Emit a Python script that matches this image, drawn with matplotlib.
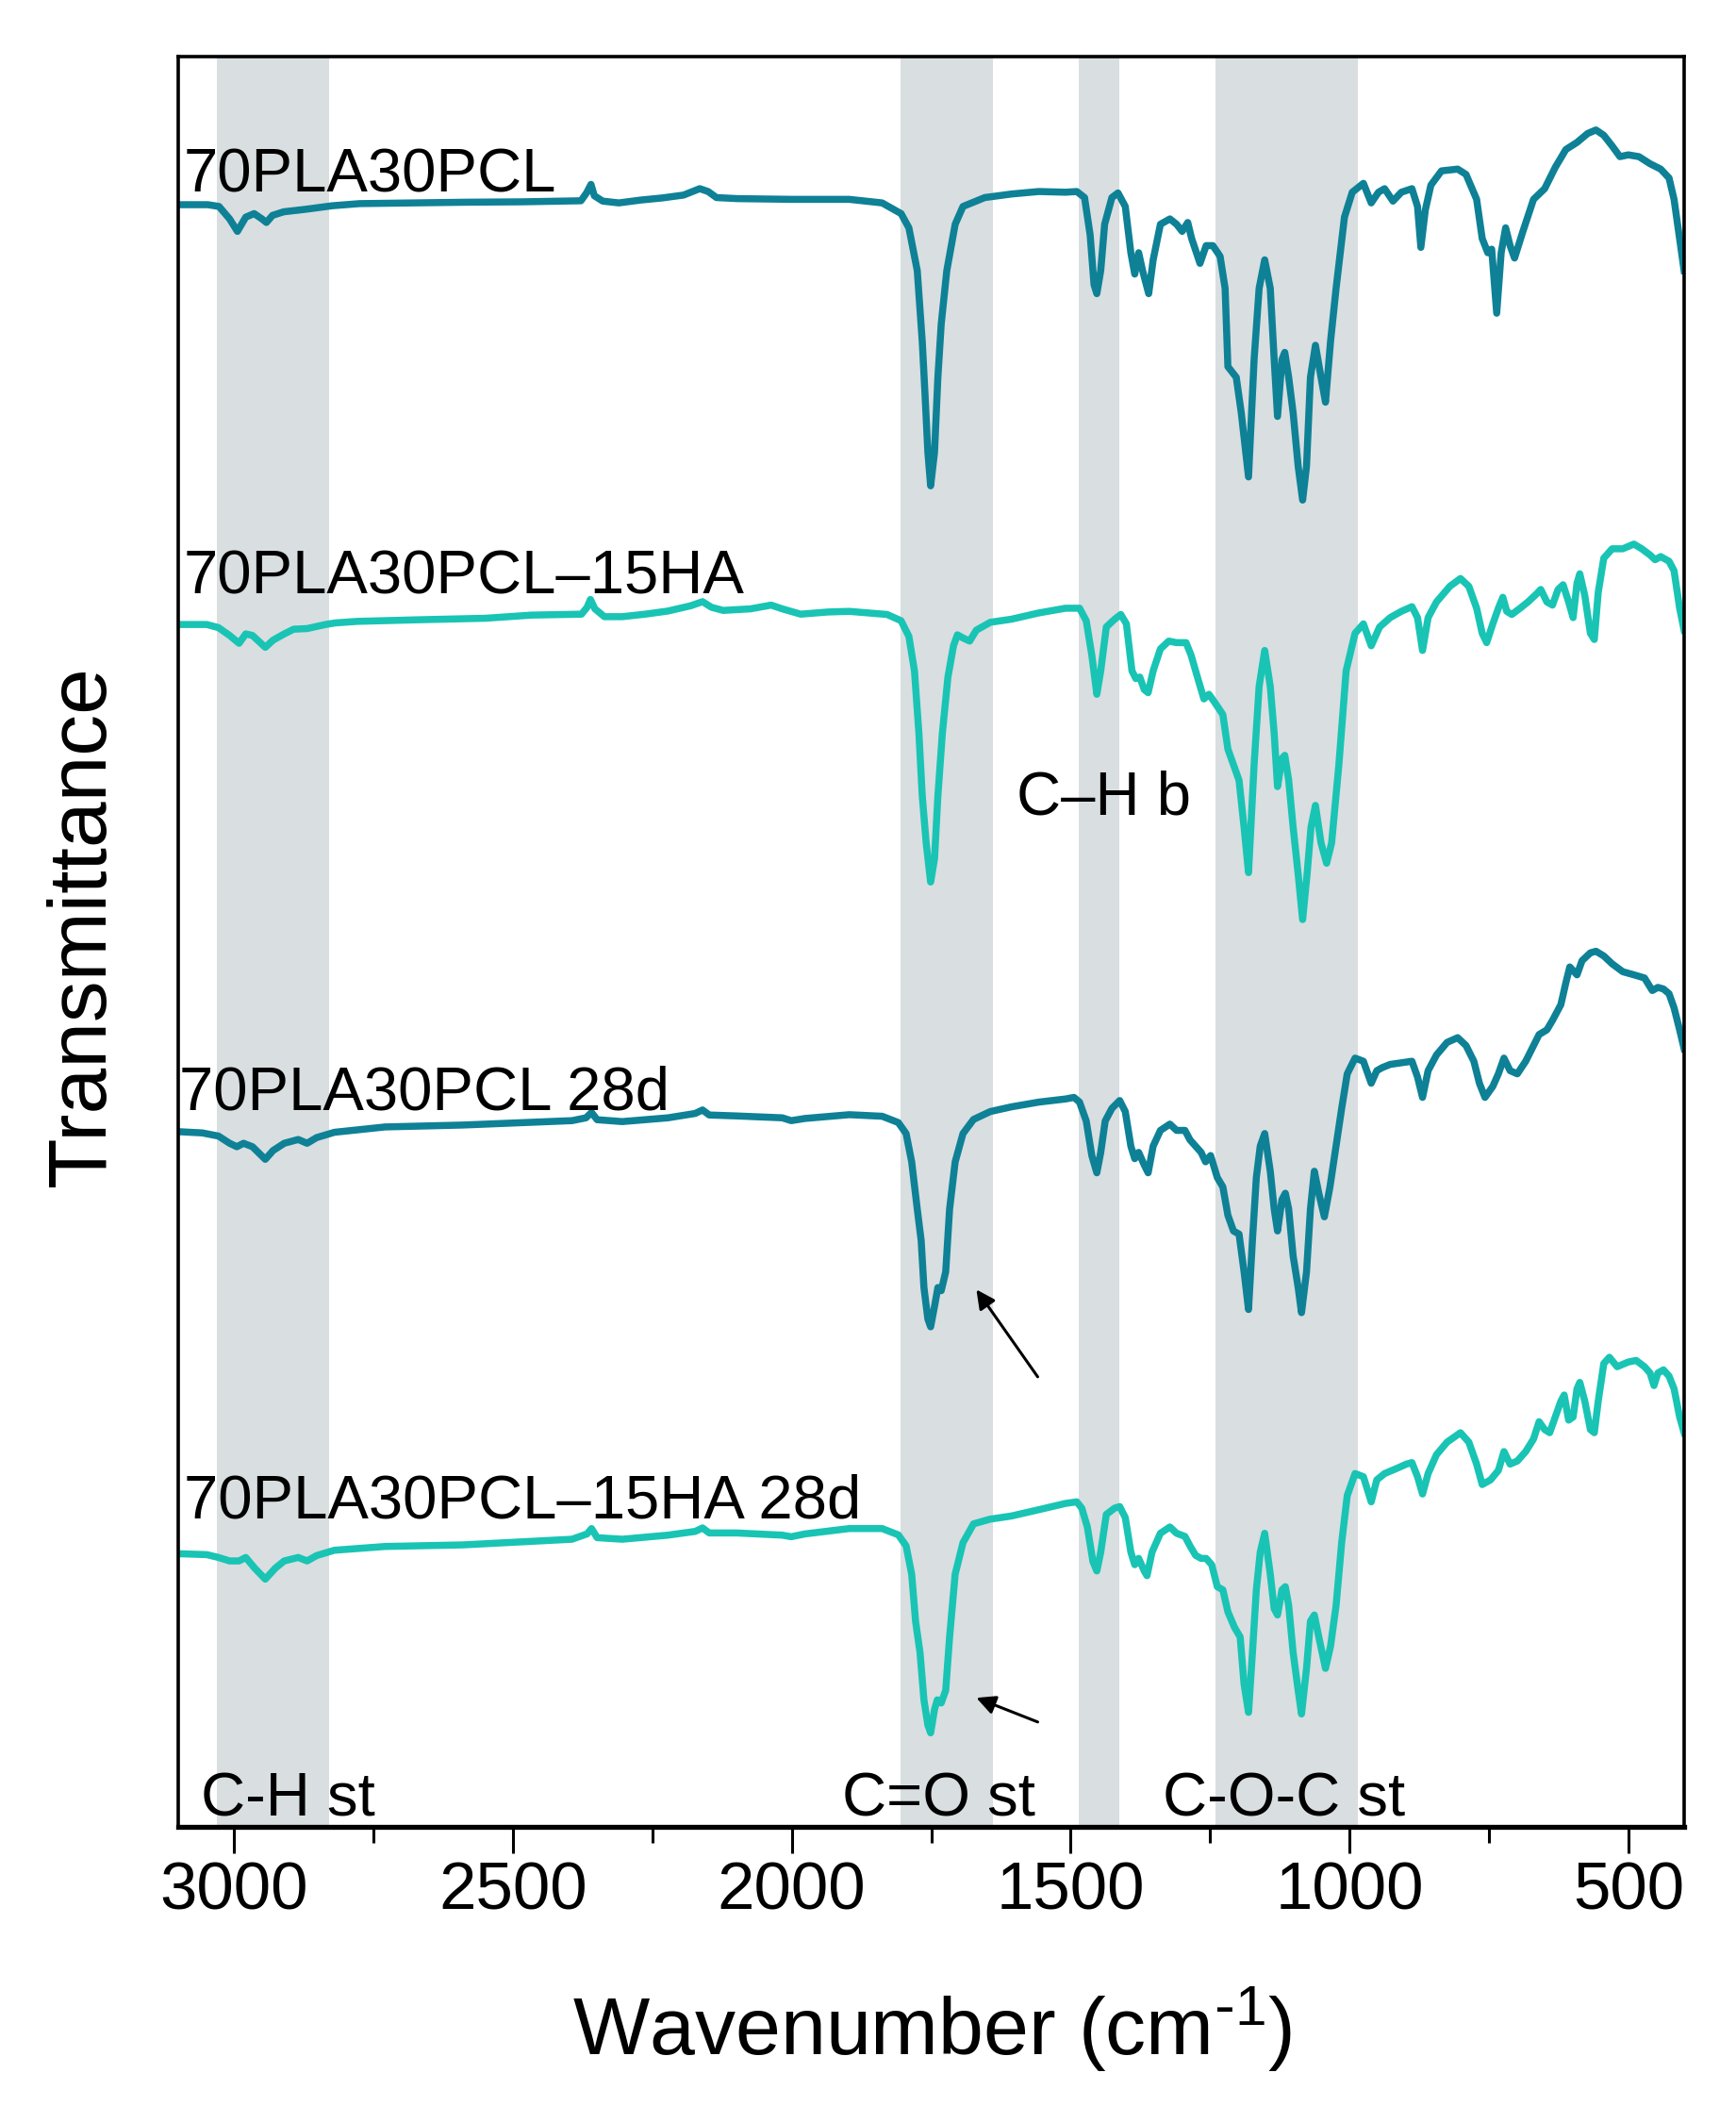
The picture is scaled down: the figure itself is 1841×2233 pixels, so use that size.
import matplotlib
matplotlib.use("Agg")
import matplotlib.pyplot as plt
from matplotlib.ticker import MultipleLocator

plt.rcParams.update({
    'font.family': ['Liberation Sans', 'DejaVu Sans'],
    'mathtext.default': 'regular',
})

DARK = '#0E8196'
LIGHT = '#19C4B4'
BAND = '#D9DEE0'

# ---- spectra (wavenumber cm-1, relative transmittance) ----
wn1 = [3100, 3047, 3027, 3008, 2994, 2979, 2964, 2950, 2942, 2931, 2911, 2872, 2824, 2775, 2678, 2581,
       2485, 2378, 2368, 2360, 2354, 2339, 2310, 2271, 2232, 2194, 2165, 2150, 2135, 2097, 2000,
       1897, 1838, 1804, 1790, 1775, 1766, 1761, 1756, 1751, 1744, 1738, 1732, 1722, 1707, 1693, 1654,
       1606, 1557, 1509, 1489, 1475, 1465, 1458, 1453, 1446, 1439, 1426, 1415, 1402, 1392, 1385, 1378,
       1371, 1360, 1352, 1339, 1322, 1310, 1300, 1290, 1283, 1268, 1257, 1245, 1232, 1223, 1218, 1203,
       1194, 1181, 1171, 1162, 1152, 1142, 1135, 1129, 1121, 1116, 1109, 1101, 1092, 1084, 1077, 1070,
       1061, 1051, 1043, 1034, 1024, 1009, 995, 975, 961, 948, 937, 922, 907, 888, 878, 872, 864, 854,
       835, 806, 791, 772, 762, 752, 745, 736, 728, 720, 712, 704, 689, 670, 650, 631, 612, 592, 573,
       558, 544, 529, 515, 500, 481, 461, 442, 427, 418, 408, 400]
t1 = [93.5, 93.5, 93.0, 89.5, 86.0, 90.0, 91.0, 89.5, 88.5, 90.5, 91.5, 92.2, 93.2, 93.8, 94.0, 94.2,
      94.3, 94.6, 96.8, 99.2, 96.0, 94.5, 94.0, 94.8, 95.4, 96.2, 98.0, 97.2, 95.5, 95.2, 95.0,
      95.0, 94.0, 91.0, 87.0, 75.0, 55.0, 40.0, 24.0, 14.5, 24.0, 45.0, 60.0, 75.0, 88.0, 93.0, 95.5,
      96.5, 97.2, 97.0, 97.2, 95.5, 85.0, 71.0, 68.5, 75.0, 88.0, 95.5, 96.8, 93.0, 80.0, 74.0, 80.0,
      75.0, 68.5, 78.0, 88.0, 89.5, 88.0, 86.0, 88.5, 84.0, 77.0, 82.0, 82.0, 79.0, 70.0, 48.0, 45.0,
      35.0, 17.0, 50.0, 70.0, 78.0, 70.0, 50.0, 34.0, 50.0, 52.0, 45.0, 35.0, 20.0, 10.5, 20.0, 45.0,
      54.0, 45.0, 38.0, 55.0, 70.0, 90.0, 97.0, 99.5, 94.0, 97.0, 98.0, 94.5, 97.0, 98.0, 93.0, 81.5, 92.0, 99.0,
      103.0, 103.5, 102.0, 95.0, 84.0, 80.0, 81.0, 63.0, 80.0, 87.0, 82.0, 78.5, 86.0, 95.0, 98.0, 104.0, 109.0, 111.0, 113.5,
      114.5, 113.0, 110.0, 107.0, 107.5, 107.0, 105.0, 103.5, 101.0, 95.0, 84.0, 75.0]

wn2 = [3100, 3049, 3028, 3008, 2991, 2979, 2967, 2955, 2944, 2930, 2910, 2893, 2869, 2836, 2819, 2779,
       2672, 2549, 2467, 2377, 2367, 2361, 2353, 2336, 2304, 2263, 2222, 2181, 2160, 2144, 2123, 2074,
       2037, 2017, 1984, 1935,
       1897, 1829, 1804, 1790, 1780, 1772, 1766, 1759, 1751, 1744, 1738, 1730, 1720, 1710, 1703, 1693,
       1681, 1669, 1644, 1606, 1557, 1509, 1484, 1472, 1462, 1453, 1446, 1436, 1421, 1410, 1400, 1390,
       1383, 1376, 1368, 1361, 1352, 1339, 1324, 1310, 1293, 1284, 1271, 1261, 1252, 1242, 1227, 1218,
       1208, 1198, 1189, 1181, 1171, 1162, 1152, 1142, 1135, 1129, 1121, 1116, 1109, 1101, 1092, 1084,
       1076, 1069, 1061, 1051, 1041, 1032, 1019, 1006, 990, 975, 961, 946, 927, 907, 888, 878, 869, 859,
       844, 820, 801, 786, 772, 762, 754, 743, 733, 725, 718, 709, 694, 680, 665, 657, 646, 636, 626,
       617, 607, 599, 592, 587, 578, 568, 561, 554, 544, 529, 510, 490, 476, 461, 452, 442, 427, 418,
       408, 400]
t2 = [104.8, 104.8, 103.8, 101.3, 98.8, 101.8, 101.3, 99.3, 97.5, 99.8, 101.8, 103.3, 103.5, 104.8, 105.3, 105.8,
      106.3, 106.8, 107.8, 108.1, 110.3, 112.8, 109.8, 107.3, 107.3, 108.1, 109.1, 110.8, 112.1, 110.3, 109.3, 109.8,
      111.0, 109.8, 108.1, 108.8,
      109.0, 108.0, 106.0, 101.0, 90.0, 70.0, 50.0, 35.0, 22.5, 30.0, 50.0, 70.0, 88.0, 98.0, 101.5, 100.5,
      99.5, 103.0, 105.5, 106.5, 108.5, 110.0, 110.0, 106.0, 95.0, 82.5, 90.0, 104.0, 106.5, 108.0, 105.0, 90.0,
      87.5, 88.0, 84.0, 83.0, 90.0, 97.0, 99.5, 99.0, 99.0, 95.0, 87.0, 81.0, 82.5, 80.0, 76.0, 65.0,
      60.0, 55.0, 40.0, 25.5, 60.0, 85.0, 96.5, 85.0, 70.0, 53.0, 62.0, 63.0, 55.0, 40.0, 25.0, 10.5,
      25.0, 40.0, 47.0, 35.0, 28.5, 35.0, 60.0, 90.0, 102.0, 105.0, 98.0, 104.0, 107.0, 109.0, 110.5, 107.0, 96.5, 107.0,
      112.0, 117.0, 119.5, 117.0, 110.0, 102.0, 99.0, 105.0, 110.0, 113.5, 109.0, 108.0, 110.0, 112.0, 114.5, 116.0, 112.0, 111.0, 116.0,
      117.5, 112.0, 107.0, 118.0, 121.0, 114.0, 102.0, 100.0, 115.0, 126.0, 129.0, 129.0, 130.5, 129.0, 127.0, 125.5, 126.5, 125.0, 122.0,
      110.0, 103.0]

wn3 = [3100, 3057, 3028, 3008, 2995, 2983, 2967, 2955, 2944, 2930, 2910, 2885, 2869, 2852, 2820, 2729,
       2590, 2394, 2369, 2359, 2349, 2304, 2222, 2173, 2160, 2148, 2099, 2017, 2001, 1976,
       1897, 1838, 1809, 1795, 1785, 1775, 1768, 1763, 1756, 1751, 1743, 1738, 1732, 1724, 1717, 1707,
       1693, 1674, 1644, 1606, 1557, 1509, 1494, 1484, 1472, 1462, 1453, 1446, 1438, 1426, 1412, 1402,
       1392, 1385, 1378, 1368, 1361, 1352, 1339, 1322, 1310, 1295, 1286, 1276, 1266, 1258, 1249, 1237,
       1227, 1218, 1208, 1198, 1189, 1181, 1174, 1167, 1160, 1152, 1142, 1135, 1129, 1121, 1115, 1109,
       1101, 1092, 1086, 1077, 1070, 1063, 1055, 1045, 1035, 1024, 1014, 1004, 990, 975, 961, 951, 941,
       927, 907, 888, 878, 869, 859, 844, 825, 806, 791, 777, 767, 757, 743, 733, 723, 712, 699, 684,
       670, 660, 646, 636, 621, 612, 605, 592, 583, 568, 558, 544, 529, 510, 490, 471, 457, 447, 437,
       427, 418, 408, 400]
t3 = [74.6, 74.2, 73.2, 70.9, 69.8, 70.9, 69.8, 67.7, 65.8, 68.6, 70.9, 72.1, 70.9, 72.7, 74.4, 76.1,
      76.7, 78.1, 79.0, 80.7, 78.4, 77.8, 79.0, 80.4, 81.5, 79.9, 79.6, 79.0, 78.1, 78.8,
      80.0, 79.5, 77.5, 74.0, 65.0, 50.0, 40.0, 25.0, 15.0, 12.5, 20.0, 25.0, 24.0, 30.0, 50.0, 65.0,
      74.0, 78.5, 81.0, 82.5, 84.0, 85.0, 85.5, 84.0, 78.0, 67.0, 61.5, 68.0, 78.0, 82.0, 84.5, 81.0,
      70.0, 66.0, 68.0, 64.0, 61.5, 70.0, 75.0, 77.0, 75.0, 75.0, 72.0, 70.0, 68.0, 65.0, 67.0, 60.0,
      57.0, 48.0, 43.0, 42.0, 30.0, 18.0, 40.0, 60.0, 70.0, 74.0, 62.0, 50.0, 43.0, 53.0, 55.0, 50.0,
      35.0, 25.0, 17.0, 30.0, 50.0, 62.0, 55.0, 47.5, 57.0, 70.0, 82.0, 93.0, 98.0, 97.0, 90.0, 94.0, 95.0,
      96.0, 96.5, 97.0, 92.0, 85.5, 94.0, 99.0, 103.0, 104.5, 102.0, 97.0, 90.0, 85.5, 89.0, 93.0, 98.0, 94.0, 93.0, 97.0,
      102.0, 105.5, 107.0, 110.0, 115.0, 122.0, 127.0, 124.5, 129.0, 131.5, 132.0, 130.5, 128.0, 125.5, 124.5, 123.5, 119.5, 120.5, 120.0,
      118.5, 114.0, 107.0, 101.0]

wn4 = [3100, 3049, 3028, 3008, 2991, 2979, 2963, 2944, 2926, 2910, 2885, 2869, 2852, 2820, 2729, 2590,
       2394, 2367, 2359, 2349, 2304, 2222, 2173, 2160, 2148, 2099, 2017, 2001, 1976,
       1897, 1838, 1809, 1795, 1785, 1778, 1770, 1763, 1756, 1751, 1744, 1739, 1732, 1724, 1717, 1707,
       1693, 1674, 1644, 1606, 1557, 1509, 1489, 1480, 1470, 1460, 1453, 1446, 1436, 1421, 1412, 1402,
       1392, 1385, 1378, 1368, 1363, 1354, 1339, 1322, 1310, 1295, 1286, 1276, 1266, 1257, 1247, 1237,
       1227, 1218, 1206, 1196, 1189, 1181, 1174, 1167, 1160, 1152, 1142, 1135, 1129, 1121, 1115, 1109,
       1101, 1092, 1086, 1077, 1070, 1063, 1055, 1043, 1034, 1024, 1014, 1004, 990, 975, 961, 951, 937,
       917, 898, 888, 878, 869, 859, 844, 825, 801, 786, 772, 762, 747, 733, 723, 712, 699, 684, 670,
       660, 650, 641, 631, 621, 615, 607, 599, 592, 587, 578, 568, 561, 554, 544, 534, 520, 500, 486,
       471, 461, 454, 447, 437, 427, 418, 408, 400]
t4 = [71.5, 71.2, 70.3, 69.2, 69.2, 70.3, 66.9, 63.4, 66.9, 69.2, 70.3, 69.2, 70.9, 72.6, 73.8, 74.3,
      76.1, 77.8, 79.5, 76.6, 76.1, 77.4, 78.6, 79.7, 78.1, 78.1, 77.4, 76.9, 77.8,
      79.5, 79.5, 77.5, 74.0, 65.0, 50.0, 40.0, 25.0, 17.0, 14.5, 22.0, 25.0, 24.0, 28.0, 45.0, 65.0,
      75.0, 81.0, 82.5, 83.5, 85.5, 87.5, 88.0, 86.0, 80.0, 69.0, 66.0, 72.0, 84.0, 86.0, 86.5, 83.0,
      72.0, 68.0, 70.0, 66.0, 64.5, 72.0, 78.0, 80.0, 78.0, 77.0, 74.0, 71.0, 70.0, 70.0, 68.0, 61.0,
      60.0, 53.0, 48.0, 45.0, 30.0, 21.0, 40.0, 60.0, 72.0, 78.0, 65.0, 54.0, 52.0, 60.0, 61.0, 55.0,
      40.0, 28.0, 20.5, 35.0, 50.0, 52.0, 45.0, 35.0, 42.0, 55.0, 75.0, 90.0, 97.0, 96.0, 88.0, 95.0, 97.0,
      98.5, 100.0, 100.5, 96.0, 90.5, 97.0, 103.0, 107.0, 110.0, 107.0, 100.0, 93.5, 95.0, 98.0, 104.0, 100.0, 101.0, 104.0, 108.0,
      113.5, 111.0, 110.0, 115.0, 120.0, 122.0, 114.0, 115.0, 124.0, 126.0, 120.0, 111.0, 110.0, 120.0, 132.0, 134.0, 131.0, 132.5, 133.0,
      131.0, 129.0, 125.0, 129.0, 130.0, 128.0, 124.0, 115.0, 110.0]

# stacking: (offset, scale) per trace
stack = [(96.0, 0.265), (65.1, 0.233), (34.3, 0.234), (3.6, 0.234)]
names = ['70PLA30PCL', '70PLA30PCL\u201315HA', '70PLA30PCL 28d', '70PLA30PCL\u201315HA 28d']
name_pos = [(3090, 121.7), (3090, 91.8), (3098, 53.4), (3090, 23.0)]
colors = [DARK, LIGHT, DARK, LIGHT]

# shaded assignment bands
band_lo = [2830, 1640, 1412, 985]
band_hi = [3030, 1805, 1485, 1240]
band_txt = ['C-H st', 'C=O st', 'C\u2013H b', 'C-O-C st']
band_txt_pos = [(3059, 0.8), (1910, 0.8), (1597, 75.4), (1335, 0.8)]

fig = plt.figure(figsize=(18.41, 22.33), dpi=100)
ax = fig.add_axes([0.1027, 0.1326, 0.8674, 0.8405])

for lo, hi in zip(band_lo, band_hi):
    ax.axvspan(lo, hi, color=BAND, lw=0, zorder=0)

for wn, t, (off, k), c in zip([wn1, wn2, wn3, wn4], [t1, t2, t3, t4], stack, colors):
    ax.plot(wn, [off + k * v for v in t], color=c, lw=5.4, solid_joinstyle='round', zorder=2)

for s, (x, y) in zip(names, name_pos):
    ax.text(x, y, s, fontsize=47, va='baseline', ha='left', zorder=3)
for s, (x, y) in zip(band_txt, band_txt_pos):
    ax.text(x, y, s, fontsize=47, va='baseline', ha='left', zorder=3)

# arrows pointing at the C=O shoulder of the aged samples
for head, tail in [((1669, 40.0), (1559, 33.5)), ((1669, 9.6), (1559, 7.8))]:
    ax.annotate('', xy=head, xytext=tail,
                arrowprops=dict(arrowstyle='-|>', color='black', lw=2.2, mutation_scale=30,
                                shrinkA=0, shrinkB=0))

ax.set_xlim(3100, 400)
ax.set_ylim(0, 131.8)
ax.set_yticks([])
ax.xaxis.set_major_locator(MultipleLocator(500))
ax.xaxis.set_minor_locator(MultipleLocator(250))
ax.tick_params(axis='x', which='major', direction='out', length=20, width=2.2, labelsize=51, pad=6)
ax.tick_params(axis='x', which='minor', direction='out', length=12, width=2.2)
for side in ['left', 'right', 'top']:
    ax.spines[side].set_linewidth(2.6)
ax.spines['bottom'].set_linewidth(3.8)

fig.text(0.537, 0.0242, r'Wavenumber (cm$^{\text{-}1}$)', fontsize=62, ha='center', va='baseline')
fig.text(0.048, 0.560, 'Transmittance', fontsize=63, rotation=90, ha='center', va='center')

fig.savefig('out.png', dpi=100)
